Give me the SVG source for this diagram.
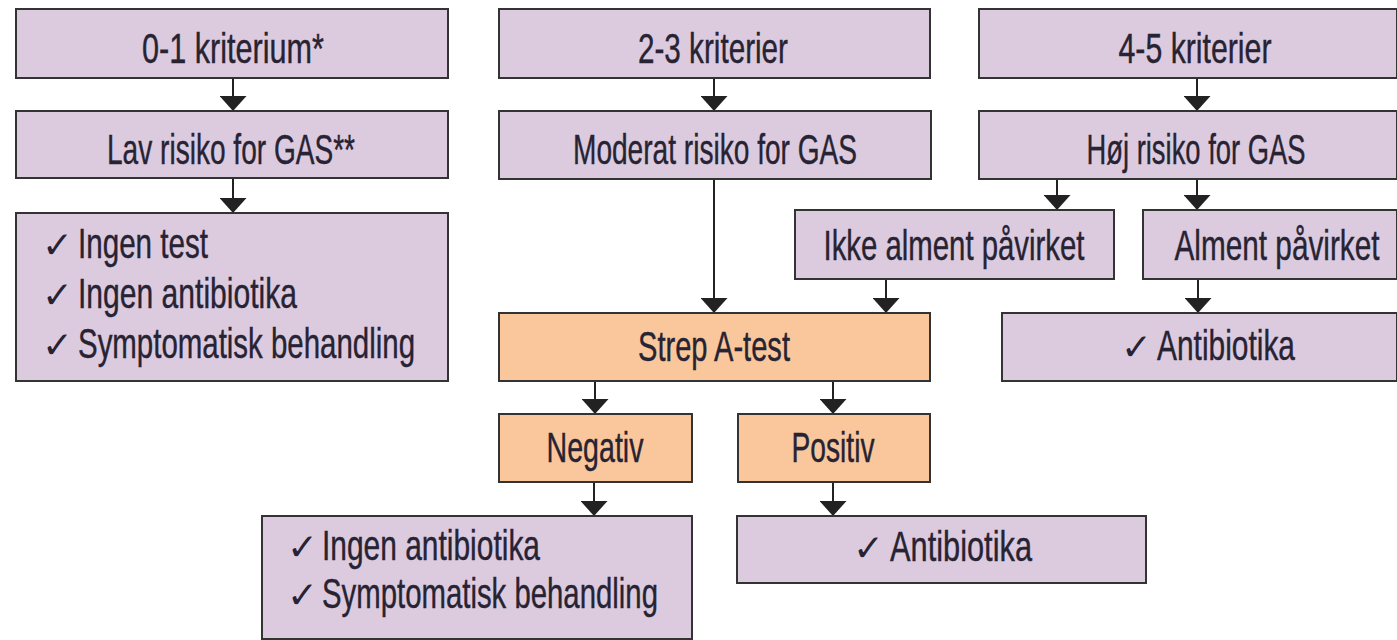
<svg xmlns="http://www.w3.org/2000/svg" width="1397" height="640" viewBox="0 0 1397 640">
<style>
.p{fill:#dccbdf;stroke:#333;stroke-width:2}
.o{fill:#f9c79b;stroke:#333;stroke-width:2}
.t{font-family:"Liberation Sans",Arial,sans-serif;font-size:42px;fill:#272333;text-anchor:middle;stroke:#272333;stroke-width:0.4}
.l{font-family:"Liberation Sans",Arial,sans-serif;font-size:42px;fill:#272333;stroke:#272333;stroke-width:0.4}
.c{font-family:"DejaVu Sans",sans-serif;font-size:37px;stroke-width:0}
.e{stroke:#222;stroke-width:2;fill:none;marker-end:url(#ah)}
</style>
<defs>
<marker id="ah" viewBox="0 0 15 27" refX="15" refY="13.5" markerWidth="15" markerHeight="27" markerUnits="userSpaceOnUse" orient="auto">
<path d="M0,0 L15,13.5 L0,27 z" fill="#222"/>
</marker>
</defs>
<rect width="1397" height="640" fill="#fff"/>
<g id="connectors">
<line class="e" x1="233" y1="78" x2="233" y2="111"/>
<line class="e" x1="233" y1="178" x2="233" y2="213"/>
<line class="e" x1="714" y1="78" x2="714" y2="111"/>
<line class="e" x1="714" y1="179" x2="714" y2="313"/>
<line class="e" x1="1197" y1="78" x2="1197" y2="111"/>
<line class="e" x1="1057" y1="179" x2="1057" y2="210"/>
<line class="e" x1="1197" y1="179" x2="1197" y2="210"/>
<line class="e" x1="886" y1="279" x2="886" y2="313"/>
<line class="e" x1="1198" y1="279" x2="1198" y2="313"/>
<line class="e" x1="595" y1="381" x2="595" y2="414"/>
<line class="e" x1="833" y1="381" x2="833" y2="414"/>
<line class="e" x1="594" y1="482" x2="594" y2="516"/>
<line class="e" x1="833" y1="482" x2="833" y2="516"/>
</g>
<g id="n1"><rect class="p" x="16" y="9" width="432" height="69"/><text class="t" x="233" y="63" textLength="182" lengthAdjust="spacingAndGlyphs">0-1 kriterium*</text></g>
<g id="n2"><rect class="p" x="16" y="111" width="432" height="67"/><text class="t" x="231" y="164" textLength="248" lengthAdjust="spacingAndGlyphs">Lav risiko for GAS**</text></g>
<g id="n3"><rect class="p" x="16" y="213" width="432" height="168"/>
<text class="l" y="258"><tspan class="c" x="42">✓</tspan><tspan x="78" textLength="130" lengthAdjust="spacingAndGlyphs">Ingen test</tspan></text>
<text class="l" y="308"><tspan class="c" x="42">✓</tspan><tspan x="78" textLength="219" lengthAdjust="spacingAndGlyphs">Ingen antibiotika</tspan></text>
<text class="l" y="358"><tspan class="c" x="42">✓</tspan><tspan x="78" textLength="337" lengthAdjust="spacingAndGlyphs">Symptomatisk behandling</tspan></text>
</g>
<g id="n4"><rect class="p" x="499" y="9" width="431" height="69"/><text class="t" x="713" y="63" textLength="150" lengthAdjust="spacingAndGlyphs">2-3 kriterier</text></g>
<g id="n5"><rect class="p" x="499" y="111" width="432" height="68"/><text class="t" x="715" y="164" textLength="284" lengthAdjust="spacingAndGlyphs">Moderat risiko for GAS</text></g>
<g id="n6"><rect class="p" x="979" y="9" width="418" height="69"/><text class="t" x="1195" y="63" textLength="153" lengthAdjust="spacingAndGlyphs">4-5 kriterier</text></g>
<g id="n7"><rect class="p" x="979" y="111" width="418" height="68"/><text class="t" x="1196" y="164" textLength="219" lengthAdjust="spacingAndGlyphs">Høj risiko for GAS</text></g>
<g id="n8"><rect class="p" x="795" y="210" width="319" height="69"/><text class="t" x="954" y="260" textLength="261" lengthAdjust="spacingAndGlyphs">Ikke alment påvirket</text></g>
<g id="n9"><rect class="p" x="1143" y="210" width="254" height="69"/><text class="t" x="1277" y="260" textLength="205" lengthAdjust="spacingAndGlyphs">Alment påvirket</text></g>
<g id="n10"><rect class="p" x="1002" y="313" width="395" height="68"/><text class="l" y="360"><tspan class="c" x="1121">✓</tspan><tspan x="1157" textLength="138" lengthAdjust="spacingAndGlyphs">Antibiotika</tspan></text></g>
<g id="n11"><rect class="o" x="499" y="313" width="431" height="68"/><text class="t" x="714" y="361" textLength="152" lengthAdjust="spacingAndGlyphs">Strep A-test</text></g>
<g id="n12"><rect class="o" x="499" y="414" width="193" height="68"/><text class="t" x="595" y="462" textLength="97" lengthAdjust="spacingAndGlyphs">Negativ</text></g>
<g id="n13"><rect class="o" x="738" y="414" width="192" height="68"/><text class="t" x="833" y="462" textLength="83" lengthAdjust="spacingAndGlyphs">Positiv</text></g>
<g id="n14"><rect class="p" x="262" y="516" width="430" height="123"/>
<text class="l" y="560"><tspan class="c" x="287">✓</tspan><tspan x="322" textLength="218" lengthAdjust="spacingAndGlyphs">Ingen antibiotika</tspan></text>
<text class="l" y="608"><tspan class="c" x="287">✓</tspan><tspan x="322" textLength="336" lengthAdjust="spacingAndGlyphs">Symptomatisk behandling</tspan></text>
</g>
<g id="n15"><rect class="p" x="737" y="516" width="409" height="67"/><text class="l" y="561"><tspan class="c" x="853">✓</tspan><tspan x="890" textLength="142" lengthAdjust="spacingAndGlyphs">Antibiotika</tspan></text></g>
</svg>
